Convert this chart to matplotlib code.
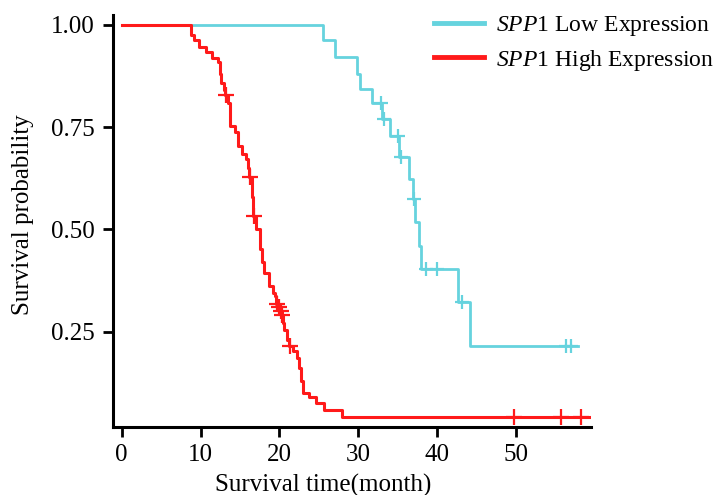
import matplotlib
matplotlib.use("Agg")
import matplotlib.pyplot as plt

plt.rcParams["font.family"] = ["Liberation Serif", "DejaVu Serif"]
plt.rcParams["mathtext.fontset"] = "custom"
plt.rcParams["mathtext.rm"] = "Liberation Serif"
plt.rcParams["mathtext.it"] = "Liberation Serif:italic"

# Kaplan-Meier steps (time in months, survival after step)
low_time = [0, 25.5, 27.1, 29.8, 30.2, 31.7, 33.0, 34.0, 35.2, 36.5, 36.9,
            37.2, 37.7, 38.0, 42.7, 44.2, 57.9]
low_surv = [1.0, 0.962, 0.922, 0.88, 0.843, 0.81, 0.77, 0.729, 0.676, 0.622,
            0.574, 0.517, 0.459, 0.402, 0.322, 0.214, 0.214]
low_cens_t = [32.9, 33.3, 35.0, 35.4, 37.1, 38.6, 40.0, 43.2, 56.4, 57.0]
low_cens_s = [0.81, 0.77, 0.729, 0.676, 0.574, 0.402, 0.402, 0.322, 0.214, 0.214]

high_time = [0, 8.75, 9.2, 9.8, 10.7, 11.5, 12.2, 12.5, 12.6, 13.0, 13.1,
             13.5, 13.7, 13.8, 14.4, 14.7, 15.3, 15.8, 16.0, 16.2, 16.5,
             16.7, 17.1, 17.5, 17.8, 18.1, 18.7, 19.2, 19.4, 19.6, 19.9,
             20.1, 20.3, 20.5, 20.6, 21.0, 21.2, 21.7, 22.3, 22.5, 22.7,
             23.0, 23.8, 24.7, 25.7, 27.9, 59.4]
high_surv = [1.0, 0.975, 0.962, 0.945, 0.933, 0.92, 0.909, 0.88, 0.859, 0.84,
             0.828, 0.81, 0.78, 0.753, 0.737, 0.704, 0.684, 0.672, 0.65,
             0.627, 0.58, 0.532, 0.5, 0.451, 0.42, 0.394, 0.361, 0.345,
             0.336, 0.318, 0.31, 0.30, 0.29, 0.27, 0.255, 0.23, 0.214, 0.202,
             0.185, 0.16, 0.13, 0.10, 0.091, 0.075, 0.059, 0.042, 0.042]
high_cens_t = [13.2, 16.3, 16.8, 19.7, 20.0, 20.2, 20.4, 21.4, 49.8, 55.7, 58.3]
high_cens_s = [0.828, 0.627, 0.532, 0.318, 0.31, 0.30, 0.29, 0.214, 0.042,
               0.042, 0.042]

x_ticks = [0, 10, 20, 30, 40, 50]
y_ticks = [0.25, 0.50, 0.75, 1.00]
y_ticklabels = ["0.25", "0.50", "0.75", "1.00"]

low_color = "#66D3DE"
high_color = "#FF1A1A"

fig = plt.figure(figsize=(7.13, 4.95), dpi=100)
ax = fig.add_axes([0.1585, 0.1374, 0.670, 0.8323])

ax.step(low_time, low_surv, where="post", color=low_color, lw=2,
        label=r"$\it{SPP}$1 Low Expression")
ax.step(high_time, high_surv, where="post", color=high_color, lw=2.2,
        label=r"$\it{SPP}$1 High Expression")
ax.plot(low_cens_t, low_cens_s, ls="none", marker="+", ms=10, mew=1.6,
        color=low_color)
ax.plot(high_cens_t, high_cens_s, ls="none", marker="+", ms=12, mew=1.6,
        color=high_color)

ax.set_xlim(-1.1, 59.5)
ax.set_ylim(0.017, 1.024)
ax.set_xticks(x_ticks)
ax.set_yticks(y_ticks)
ax.set_yticklabels(y_ticklabels)
ax.tick_params(labelsize=18, width=2, length=7, color="black")
ax.tick_params(axis="y", pad=6.5)
ax.tick_params(axis="x", pad=5)

for s in ["top", "right"]:
    ax.spines[s].set_visible(False)
for s in ["left", "bottom"]:
    ax.spines[s].set_linewidth(2.2)

fig.text(323 / 713, 1 - 485 / 495, "Survival time(month)", ha="center",
         va="center", fontsize=18)
fig.text(23 / 713, 1 - 215 / 495, "Survival probability", ha="center",
         va="center", rotation=90, fontsize=18)

leg = ax.legend(loc="upper left", bbox_to_anchor=(422.5 / 713, 1 - 2 / 495),
                bbox_transform=fig.transFigure, frameon=False, fontsize=17,
                handlelength=2.1, handletextpad=0.5, labelspacing=0.42,
                borderpad=0)
for line in leg.get_lines():
    line.set_linewidth(3.5)

fig.savefig("out.png", dpi=100)
